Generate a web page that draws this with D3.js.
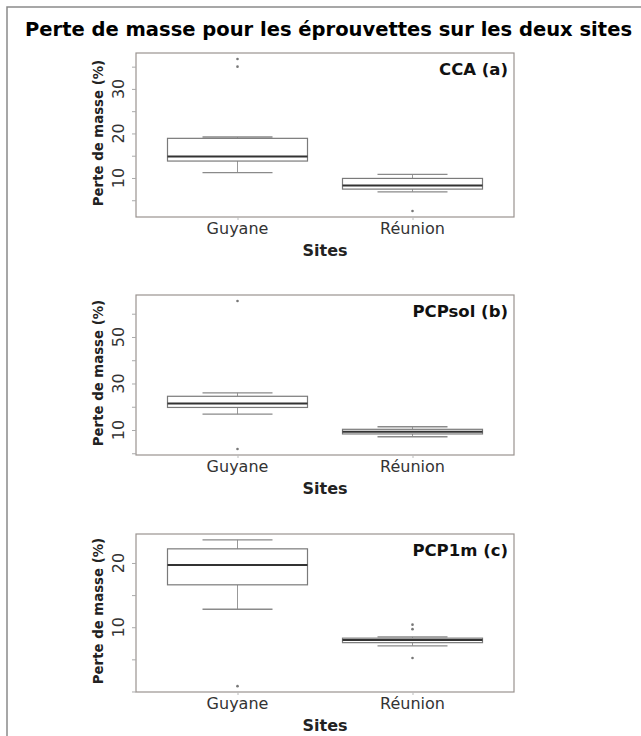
<!DOCTYPE html>
<html><head><meta charset="utf-8">
<script src="https://cdn.jsdelivr.net/npm/d3@7"></script>
<style>body{margin:0;background:#fff;} svg{display:block;font-family:"DejaVu Sans",sans-serif;}</style>
</head><body>
<script>
// ---- data ----
const sites = ["Guyane", "Réunion"];
const title = "Perte de masse pour les éprouvettes sur les deux sites";
const yTitle = "Perte de masse (%)";
const xTitle = "Sites";
const panelNames = ["CCA (a)", "PCPsol (b)", "PCP1m (c)"];
// [whiskerLow, q1, median, q3, whiskerHigh] per site
const ccaStats = [[11.2, 13.8, 14.8, 18.9, 19.2], [6.9, 7.5, 8.3, 9.9, 10.8]];
const ccaOutliers = [[35.0, 36.7], [2.6]];
const ccaTicks = [5, 10, 15, 20, 25, 30, 35];
const ccaTickLabels = [10, 20, 30];
const pcpsolStats = [[16.8, 19.7, 21.4, 24.5, 26.0], [7.1, 8.3, 9.3, 10.3, 11.4]];
const pcpsolOutliers = [[1.8, 65.5], []];
const pcpsolTicks = [0, 10, 20, 30, 40, 50, 60];
const pcpsolTickLabels = [10, 30, 50];
const pcp1mStats = [[12.8, 16.6, 19.7, 22.2, 23.6], [7.1, 7.6, 8.0, 8.3, 8.5]];
const pcp1mOutliers = [[0.83], [5.2, 9.7, 10.4]];
const pcp1mTicks = [0, 5, 10, 15, 20];
const pcp1mTickLabels = [10, 20];

const panels = [
  {name: panelNames[0], stats: ccaStats, out: ccaOutliers, ticks: ccaTicks, labels: ccaTickLabels},
  {name: panelNames[1], stats: pcpsolStats, out: pcpsolOutliers, ticks: pcpsolTicks, labels: pcpsolTickLabels},
  {name: panelNames[2], stats: pcp1mStats, out: pcp1mOutliers, ticks: pcp1mTicks, labels: pcp1mTickLabels}
];
// layout
const boxes = [{top: 53, bottom: 217}, {top: 295, bottom: 455}, {top: 534, bottom: 692}];
const L = 136, R = 514;

const W = 641, H = 736;
const svg = d3.select("body").append("svg").attr("width", W).attr("height", H);
svg.append("rect").attr("width", W).attr("height", H).attr("fill", "#fff");
// outer frame (left + top)
svg.append("path").attr("d", `M7,${H} L7,7 L${W},7`).attr("fill", "none").attr("stroke", "#8a8a8a").attr("stroke-width", 1.5);

svg.append("text").attr("x", 328.5).attr("y", 36).attr("text-anchor", "middle")
  .attr("font-size", 19).attr("font-weight", "bold").attr("fill", "#000")
  .attr("textLength", 607).attr("lengthAdjust", "spacingAndGlyphs").text(title);

const x = d3.scaleLinear().domain([0.42, 2.58]).range([L, R]);

panels.forEach((p, i) => {
  const b = boxes[i];
  const all = p.stats.flat().concat(p.out.flat());
  const mn = d3.min(all), mx = d3.max(all), r = mx - mn;
  const y = d3.scaleLinear().domain([mn - 0.04 * r, mx + 0.04 * r]).range([b.bottom, b.top]);
  const g = svg.append("g");

  // plot frame
  g.append("rect").attr("x", L).attr("y", b.top).attr("width", R - L).attr("height", b.bottom - b.top)
    .attr("fill", "none").attr("stroke", "#9a9390").attr("stroke-width", 1.2);

  // y axis ticks
  const yAxis = d3.axisLeft(y).tickValues(p.ticks).tickSize(4).tickFormat("");
  const ya = g.append("g").attr("transform", `translate(${L},0)`).call(yAxis);
  ya.select(".domain").remove();
  ya.selectAll(".tick line").attr("stroke", "#aaa");
  // tick labels (rotated)
  p.labels.forEach(v => {
    g.append("text").attr("transform", `translate(124,${y(v)}) rotate(-90)`)
      .attr("text-anchor", "middle").attr("font-size", 16).attr("fill", "#333").text(v);
  });
  // y title
  g.append("text").attr("transform", `translate(103,${(b.top + b.bottom) / 2 - 2}) rotate(-90)`)
    .attr("text-anchor", "middle").attr("font-size", 13.3).attr("font-weight", "bold").attr("fill", "#222").text(yTitle);

  // x ticks and labels
  const xAxis = d3.axisBottom(x).tickValues([1, 2]).tickSize(3).tickFormat("");
  const xa = g.append("g").attr("transform", `translate(0,${b.bottom})`).call(xAxis);
  xa.select(".domain").remove();
  xa.selectAll(".tick line").attr("stroke", "#bbb");
  sites.forEach((s, j) => {
    g.append("text").attr("x", x(j + 1)).attr("y", b.bottom + 17).attr("text-anchor", "middle")
      .attr("font-size", 16).attr("fill", "#333").text(s);
  });
  g.append("text").attr("x", (L + R) / 2 + 0).attr("y", b.bottom + 39).attr("text-anchor", "middle")
    .attr("font-size", 16).attr("font-weight", "bold").attr("fill", "#222").text(xTitle);

  // panel label
  g.append("text").attr("x", R - 6).attr("y", b.top + 22).attr("text-anchor", "end")
    .attr("font-size", 16.5).attr("font-weight", "bold").attr("fill", "#111").text(p.name);

  // boxes
  p.stats.forEach((s, j) => {
    const c = j + 1;
    const [wl, q1, md, q3, wh] = s;
    const col = "#7a7a7a";
    g.append("line").attr("x1", x(c)).attr("x2", x(c)).attr("y1", y(wh)).attr("y2", y(q3)).attr("stroke", "#999").attr("stroke-width", 1);
    g.append("line").attr("x1", x(c)).attr("x2", x(c)).attr("y1", y(q1)).attr("y2", y(wl)).attr("stroke", "#999").attr("stroke-width", 1);
    [wl, wh].forEach(v => g.append("line").attr("x1", x(c - 0.2)).attr("x2", x(c + 0.2)).attr("y1", y(v)).attr("y2", y(v))
      .attr("stroke", "#8a8a8a").attr("stroke-width", 1.3));
    g.append("rect").attr("x", x(c - 0.4)).attr("y", y(q3)).attr("width", x(c + 0.4) - x(c - 0.4)).attr("height", y(q1) - y(q3))
      .attr("fill", "#fff").attr("stroke", col).attr("stroke-width", 1.2);
    g.append("line").attr("x1", x(c - 0.4)).attr("x2", x(c + 0.4)).attr("y1", y(md)).attr("y2", y(md))
      .attr("stroke", "#333").attr("stroke-width", 2);
    p.out[j].forEach(v => g.append("circle").attr("cx", x(c)).attr("cy", y(v)).attr("r", 1.3).attr("fill", "#777"));
  });
});
</script>
</body></html>
